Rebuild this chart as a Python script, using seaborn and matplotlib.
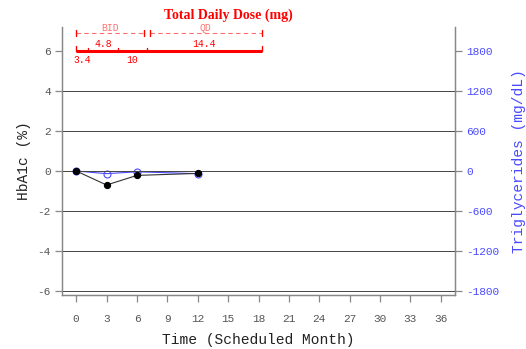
import numpy as np
import pandas as pd
import matplotlib
matplotlib.use("Agg")
import matplotlib.pyplot as plt
import seaborn as sns

# Visit schedule and mean change from baseline
months = [0, 3, 6, 12]
hba1c_change = [0.0, -0.7, -0.22, -0.12]
tg_change = [0, -40, -12, -40]

# Dosing timeline (months) and total daily dose (mg)
dose_starts = [0.0, 1.2, 4.1, 7.0]
dose_end = 18.3
dose_values = ["3.4", "4.8", "10", "14.4"]
regimens = ["BID", "QD"]
regimen_spans = [(0.0, 6.7), (7.3, 18.3)]

x_ticks = list(range(0, 37, 3))
left_ticks = [-6, -4, -2, 0, 2, 4, 6]
right_ticks = [-1800, -1200, -600, 0, 600, 1200, 1800]

sns.set_style("white")
mono = ["Liberation Mono", "DejaVu Sans Mono"]
plt.rcParams["font.family"] = mono
plt.rcParams["axes.unicode_minus"] = False

RED = "#ff0000"
LIGHT_RED = "#ff7070"
BLUE = "#4a4aff"
GREY = "#555555"
SPINE = "#888888"

fig = plt.figure(figsize=(5.26, 3.49), dpi=100)
ax = fig.add_axes([62 / 526, 1 - 295 / 349, (455 - 62) / 526, (295 - 27) / 349])
ax2 = ax.twinx()

ax.set_xlim(-1.4, 37.4)
ax.set_ylim(-6.2, 7.2)
ax2.set_ylim(-6.2 * 300, 7.2 * 300)

# horizontal reference lines
for v in [-6, -4, -2, 0, 2, 4]:
    ax.axhline(v, color="#444444", lw=0.7, zorder=1)

df = pd.DataFrame({"month": months, "hba1c": hba1c_change, "tg": tg_change})

sns.lineplot(data=df, x="month", y="tg", ax=ax2, color=BLUE, lw=0.8,
             marker="o", markersize=5, markerfacecolor="none",
             markeredgecolor=BLUE, markeredgewidth=0.8, zorder=3)
sns.lineplot(data=df, x="month", y="hba1c", ax=ax, color="#333333", lw=0.8,
             marker="o", markersize=4.5, markerfacecolor="black",
             markeredgecolor="black", zorder=4)
ax.set_zorder(ax2.get_zorder() + 1)
ax.patch.set_visible(False)

# axes styling
for a in (ax, ax2):
    a.spines["top"].set_visible(False)
    for s in ["left", "right", "bottom"]:
        a.spines[s].set_color(SPINE)
        a.spines[s].set_linewidth(0.9)
    a.grid(False)

ax.set_xticks(x_ticks)
ax.set_yticks(left_ticks)
ax.set_yticklabels([str(t) for t in left_ticks])
ax2.set_yticks(right_ticks)
ax2.set_yticklabels([str(t) for t in right_ticks])

ax.tick_params(axis="x", direction="out", length=5, width=0.9, color=SPINE,
               labelcolor=GREY, labelsize=8, pad=9, bottom=True)
ax.tick_params(axis="y", direction="out", length=5, width=0.9, color=SPINE,
               labelcolor=GREY, labelsize=8, pad=3, left=True)
ax2.tick_params(axis="y", direction="out", length=5, width=0.9, color=SPINE,
                labelcolor=BLUE, labelsize=8, pad=3, right=True)

ax.set_xlabel("Time (Scheduled Month)", fontsize=10.5, color="#222222", labelpad=6)
ax.set_ylabel("HbA1c (%)", fontsize=10.5, color="#222222", labelpad=5)
ax2.set_ylabel("Triglycerides (mg/dL)", fontsize=10.5, color=BLUE, labelpad=9)

# dosing annotation above the data
kw = dict(clip_on=False, zorder=5)
y_reg, y_dose = 6.9, 6.0
for name, (s, e) in zip(regimens, regimen_spans):
    ax.plot([s, e], [y_reg, y_reg], color=LIGHT_RED, lw=0.8, ls=(0, (4, 3)), **kw)
    ax.plot([s, s], [y_reg - 0.15, y_reg + 0.15], color=RED, lw=1.0, **kw)
    ax.plot([e, e], [y_reg - 0.15, y_reg + 0.15], color=RED, lw=1.0, **kw)
    ax.text((s + e) / 2, y_reg + 0.02, name, color=LIGHT_RED, fontsize=7,
            ha="center", va="bottom", **kw)

ax.plot([dose_starts[0], dose_end], [y_dose, y_dose], color=RED, lw=2.2,
        solid_capstyle="butt", **kw)
bounds = dose_starts + [dose_end]
for i, b in enumerate(bounds):
    h = 0.25 if i in (0, len(bounds) - 1) else 0.15
    ax.plot([b, b], [y_dose, y_dose + h], color=RED, lw=1.0, **kw)
for i, val in enumerate(dose_values):
    mid = (bounds[i] + bounds[i + 1]) / 2
    if i % 2 == 1:
        ax.text(mid, y_dose + 0.12, val, color=RED, fontsize=7,
                ha="center", va="bottom", **kw)
    else:
        ax.text(mid, y_dose - 0.22, val, color=RED, fontsize=7,
                ha="center", va="top", **kw)

ax.text(15.0, 7.8, "Total Daily Dose (mg)", color=RED, fontsize=10,
        fontweight="bold", family=["Liberation Serif", "DejaVu Serif"],
        ha="center", va="center", **kw)

fig.savefig("out.png", dpi=100)
